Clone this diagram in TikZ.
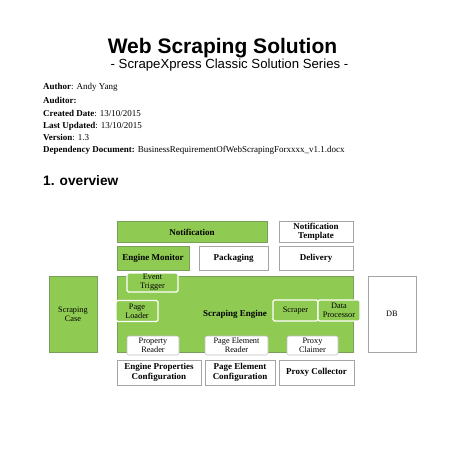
\documentclass[tikz,border=0pt]{standalone}
\usepackage{fontspec}
\setmainfont{Liberation Serif}
\newfontfamily\headfont{Liberation Sans}
\usepackage{tikz}
\usetikzlibrary{positioning}
\definecolor{sketchgreen}{RGB}{143,203,82}
\definecolor{sketchedge}{RGB}{120,160,90}
\definecolor{sketchgray}{RGB}{165,165,165}
\tikzset{
  every picture/.style = {
    x = 1pt,
    y = -1pt,
  }
  ,
  block/.style = {
    rectangle,
    draw = sketchgray,
    line width = 0.6pt,
    inner sep = 0pt,
    align = center,
    font = \fontsize{9}{9.5}\selectfont\bfseries
  }
  , % layers of the solution
  layer-green/.style = {
    block,
    fill = sketchgreen,
    draw = sketchedge
  }
  ,
  layer-white/.style = {
    block,
    fill = white
  }
  , % parts inside the engine
  part-green/.style = {
    block,
    fill = sketchgreen,
    draw = white,
    line width = 1.4pt,
    rounded corners = 1.5pt,
    font = \fontsize{8.3}{8.8}\selectfont
  }
  ,
  part-white/.style = {
    block,
    fill = white,
    draw = sketchgray!70,
    rounded corners = 1.5pt,
    font = \fontsize{8.3}{8.8}\selectfont
  }
  , % lines of the header
  meta/.style = {
    anchor = base west,
    inner sep = 0pt,
    font = \fontsize{9}{9}\selectfont
  }
}
\begin{document}
\begin{tikzpicture}
		\useasboundingbox (0,0) rectangle (452,452);
		% title and header
		\node at (222.5,53.5) [anchor=base, inner sep=0pt, font=\headfont\fontsize{21}{21}\selectfont\bfseries] (title) {Web Scraping Solution};
		\node at (229.5,68) [anchor=base, inner sep=0pt, font=\headfont\fontsize{13.2}{13.2}\selectfont] (subtitle) {- ScrapeXpress Classic Solution Series -};
		\node at (43,89) [meta] (author) {\textbf{Author}: Andy Yang};
		\node at (43,103) [meta] (auditor) {\textbf{Auditor:}};
		\node at (43,116) [meta] (created) {\textbf{Created Date}: 13/10/2015};
		\node at (43,128) [meta] (updated) {\textbf{Last Updated}: 13/10/2015};
		\node at (43,140) [meta] (version) {\textbf{Version}: 1.3};
		\node at (43,152) [meta] (dependency) {\textbf{Dependency Document:} BusinessRequirementOfWebScrapingForxxxx\_v1.1.docx};
		\node at (43,185.5) [anchor=base west, inner sep=0pt, font=\headfont\fontsize{13.7}{13.7}\selectfont\bfseries] (overview) {1. overview};

		% layers
		\node at (192,232) [layer-green, minimum width=150, minimum height=21] (notification) {Notification};
		\node at (316,232) [layer-white, minimum width=74, minimum height=21] (template) {Notification\\Template};
		\node at (153,258) [layer-green, minimum width=72, minimum height=24] (monitor) {Engine Monitor};
		\node at (233.5,258) [layer-white, minimum width=69, minimum height=24] (packaging) {Packaging};
		\node at (316,258) [layer-white, minimum width=74, minimum height=24] (delivery) {Delivery};
		\node at (73,314) [layer-green, minimum width=48, minimum height=76, font=\fontsize{8.3}{8.8}\selectfont] (case) {Scraping\\Case};
		\node at (235,314) [layer-green, minimum width=236, minimum height=76] (engine) {Scraping Engine};
		\node at (392,314) [layer-white, minimum width=48, minimum height=76, font=\fontsize{8.3}{8.8}\selectfont] (db) {DB};

		% parts of the engine
		\node at (152.5,282.5) [part-green, minimum width=51, minimum height=19] (trigger) {Event\\Trigger};
		\node at (137,311) [part-green, minimum width=42, minimum height=21] (loader) {Page\\Loader};
		\node at (295.5,310.5) [part-green, minimum width=45, minimum height=21] (scraper) {Scraper};
		\node at (339,310.5) [part-green, minimum width=42, minimum height=21] (processor) {Data\\Processor};
		\node at (153,345.5) [part-white, minimum width=52, minimum height=19] (propreader) {Property\\Reader};
		\node at (236.5,345.5) [part-white, minimum width=63, minimum height=19] (pagereader) {Page Element\\Reader};
		\node at (312.5,345.5) [part-white, minimum width=51, minimum height=19] (claimer) {Proxy\\Claimer};

		% configuration
		\node at (159,372.5) [layer-white, minimum width=84, minimum height=25] (propconfig) {Engine Properties\\Configuration};
		\node at (240,372.5) [layer-white, minimum width=70, minimum height=25] (pageconfig) {Page Element\\Configuration};
		\node at (316.5,372.5) [layer-white, minimum width=75, minimum height=25] (collector) {Proxy Collector};
		\end{tikzpicture}
\end{document}
